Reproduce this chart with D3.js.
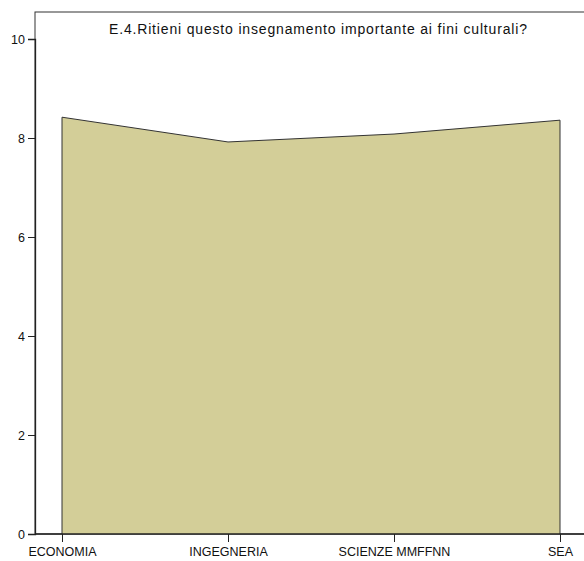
<!DOCTYPE html>
<html><head><meta charset="utf-8">
<script src="https://cdn.jsdelivr.net/npm/d3@7"></script>
<style>body{margin:0;background:#fff}svg{display:block}</style>
</head><body>
<script>
const categories = ["ECONOMIA", "INGEGNERIA", "SCIENZE MMFFNN", "SEA"];
const values = [8.42, 7.92, 8.08, 8.36];
const yTicks = [0, 2, 4, 6, 8, 10];
const title = "E.4.Ritieni questo insegnamento importante ai fini culturali?";

(function () {
const W = 584, H = 561;
const FONT = "'Liberation Sans', Arial, sans-serif";
const svg = d3.select("body").append("svg").attr("width", W).attr("height", H)
  .style("font-family", FONT);

const mLeft = 35, mTop = 12, mRight = 610, mBottom = 534;
const x = d3.scalePoint().domain(categories).range([62, 560]);
const y = d3.scaleLinear().domain([0, 10]).range([mBottom, 39]);

// frame
svg.append("rect").attr("x", mLeft).attr("y", mTop).attr("width", mRight - mLeft).attr("height", mBottom - mTop)
  .attr("fill", "none").attr("stroke", "#333").attr("stroke-width", 1);

const data = categories.map((c, i) => ({c, v: values[i]}));
const area = d3.area().x(d => x(d.c)).y0(y(0)).y1(d => y(d.v));
svg.append("path").datum(data).attr("d", area)
  .attr("fill", "#d3ce98").attr("stroke", "none");
const outline = [[x(categories[0]), y(0)]].concat(data.map(d => [x(d.c), y(d.v)])).concat([[x(categories[categories.length-1]), y(0)]]);
svg.append("path").attr("d", d3.line()(outline)).attr("fill", "none").attr("stroke", "#333").attr("stroke-width", 1);

// y axis
const yAxis = d3.axisLeft(y).tickValues(yTicks).tickSize(7).tickPadding(3).tickFormat(d3.format("d"));
const gy = svg.append("g").attr("transform", `translate(${mLeft},0)`).call(yAxis);
gy.select(".domain").attr("stroke", "#222").attr("stroke-width", 1.3);
gy.selectAll(".tick line").attr("stroke", "#222");
gy.selectAll(".tick text").attr("font-size", 12.5).attr("fill", "#111")
  .attr("font-family", FONT);

// x axis
const xAxis = d3.axisBottom(x).tickSize(8).tickPadding(5);
const gx = svg.append("g").attr("transform", `translate(0,${mBottom})`).call(xAxis);
gx.select(".domain").remove();
svg.append("line").attr("x1", mLeft).attr("x2", W).attr("y1", mBottom).attr("y2", mBottom).attr("stroke", "#222").attr("stroke-width", 1.3);
gx.selectAll(".tick line").attr("stroke", "#222");
gx.selectAll(".tick text").attr("font-size", 12.5).attr("fill", "#111")
  .attr("font-family", FONT);

svg.append("text").attr("x", 318).attr("y", 34).attr("text-anchor", "middle")
  .attr("font-size", 14).attr("fill", "#111")
  .attr("textLength", 418).attr("lengthAdjust", "spacing").text(title);
})();
</script>
</body></html>
